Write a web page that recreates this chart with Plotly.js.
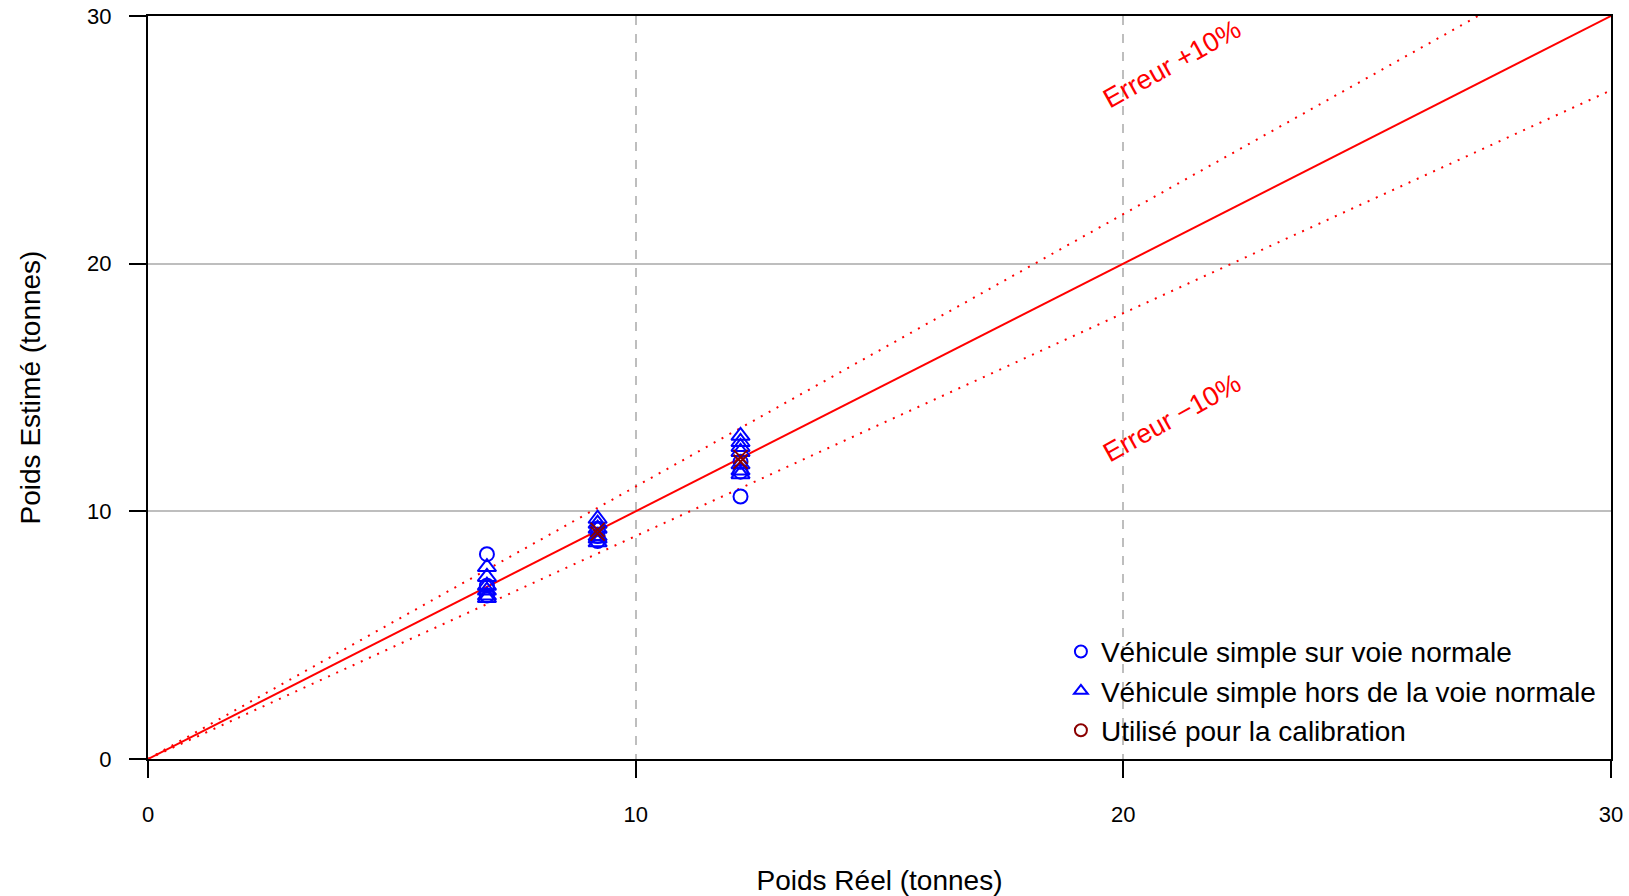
<!DOCTYPE html>
<html>
<head>
<meta charset="utf-8">
<script src="https://cdn.plot.ly/plotly-3.0.1.min.js"></script>
<style>html,body{margin:0;padding:0;background:#fff}#chart{width:1629px;height:896px}</style>
</head>
<body>
<div id="chart"></div>
<script>
// Data
const circleX = [6.95, 6.95, 6.95, 9.22, 9.22, 9.22, 12.15, 12.15, 12.15];
const circleY = [8.27, 7.0, 6.6, 9.0, 8.8, 9.3, 10.6, 11.6, 12.0];
const triX = [6.95, 6.95, 6.95, 6.95, 6.95, 6.95, 9.22, 9.22, 9.22, 9.22, 9.22, 9.22, 12.15, 12.15, 12.15, 12.15, 12.15, 12.15, 12.15];
const triY = [7.75, 7.35, 7.0, 6.8, 6.6, 6.5, 9.7, 9.5, 9.3, 9.0, 8.9, 8.75, 13.05, 12.8, 12.6, 12.4, 11.9, 11.65, 11.5];
const calX = [9.22, 9.22, 12.15, 12.15];
const calY = [9.25, 9.1, 12.2, 12.0];
const refX = [0, 30];
const ratioExact = 1.0, ratioPlus = 1.1, ratioMinus = 0.9;
const tickVals = [0, 10, 20, 30];
const legendNames = ["Véhicule simple sur voie normale", "Véhicule simple hors de la voie normale", "Utilisé pour la calibration"];

const red = "#ff0000";
const traces = [
  {x: refX, y: refX.map(v => v * ratioExact), mode: "lines", line: {color: red, width: 2}, showlegend: false, hoverinfo: "skip"},
  {x: refX, y: refX.map(v => v * ratioPlus), mode: "lines", line: {color: red, width: 2, dash: "2px,7px"}, showlegend: false, hoverinfo: "skip"},
  {x: refX, y: refX.map(v => v * ratioMinus), mode: "lines", line: {color: red, width: 2, dash: "2px,7px"}, showlegend: false, hoverinfo: "skip"},
  {x: circleX, y: circleY, mode: "markers", name: legendNames[0],
   marker: {symbol: "circle-open", size: 14, color: "#0000ff", line: {width: 2, color: "#0000ff"}}},
  {x: triX, y: triY, mode: "markers", name: legendNames[1],
   marker: {symbol: "triangle-up-open", size: 16, color: "#0000ff", line: {width: 2, color: "#0000ff"}}},
  {x: calX, y: calY, mode: "markers", showlegend: false,
   marker: {symbol: "x-thin-open", size: 14, color: "#8b0000", line: {width: 2, color: "#8b0000"}}},
  {x: [null], y: [null], mode: "markers", name: legendNames[2],
   marker: {symbol: "circle-open", size: 14, color: "#8b0000", line: {width: 2, color: "#8b0000"}}}
];

const axisCommon = {
  range: [0, 30], tickvals: tickVals, ticktext: tickVals.map(String),
  showline: true, linecolor: "#000", linewidth: 2, mirror: true,
  ticks: "outside", ticklen: 17, tickwidth: 2, tickcolor: "#000",
  showgrid: true, gridcolor: "#bebebe", gridwidth: 2,
  zeroline: false, tickfont: {family: "Liberation Sans, Arial", size: 22, color: "#000"},
  automargin: false
};

const layout = {
  width: 1629, height: 896,
  margin: {l: 147.5, r: 18, t: 15.6, b: 136.5},
  paper_bgcolor: "#fff", plot_bgcolor: "#fff",
  font: {family: "Liberation Sans, Arial", color: "#000"},
  xaxis: Object.assign({}, axisCommon, {griddash: "dash", ticklabelstandoff: 18,
    title: {text: "Poids Réel (tonnes)", font: {size: 28, color: "#000"}, standoff: 44}}),
  yaxis: Object.assign({}, axisCommon, {griddash: "solid", ticklabelstandoff: 13,
    title: {text: "Poids Estimé (tonnes)", font: {size: 28, color: "#000"}, standoff: 38}}),
  legend: {x: 0.624, y: 0.178, xanchor: "left", yanchor: "top", bgcolor: "rgba(0,0,0,0)",
    font: {size: 28, color: "#000"}, tracegroupgap: 0, itemsizing: "constant"},
  annotations: [
    {x: 21.0, y: 28.05, xref: "x", yref: "y", text: "Erreur +10%", showarrow: false, textangle: -29,
     font: {size: 27, color: red}},
    {x: 21.0, y: 13.75, xref: "x", yref: "y", text: "Erreur \u221210%", showarrow: false, textangle: -29,
     font: {size: 27, color: red}}
  ],
  showlegend: true
};

Plotly.newPlot("chart", traces, layout, {displayModeBar: false, staticPlot: true});
</script>
</body>
</html>
